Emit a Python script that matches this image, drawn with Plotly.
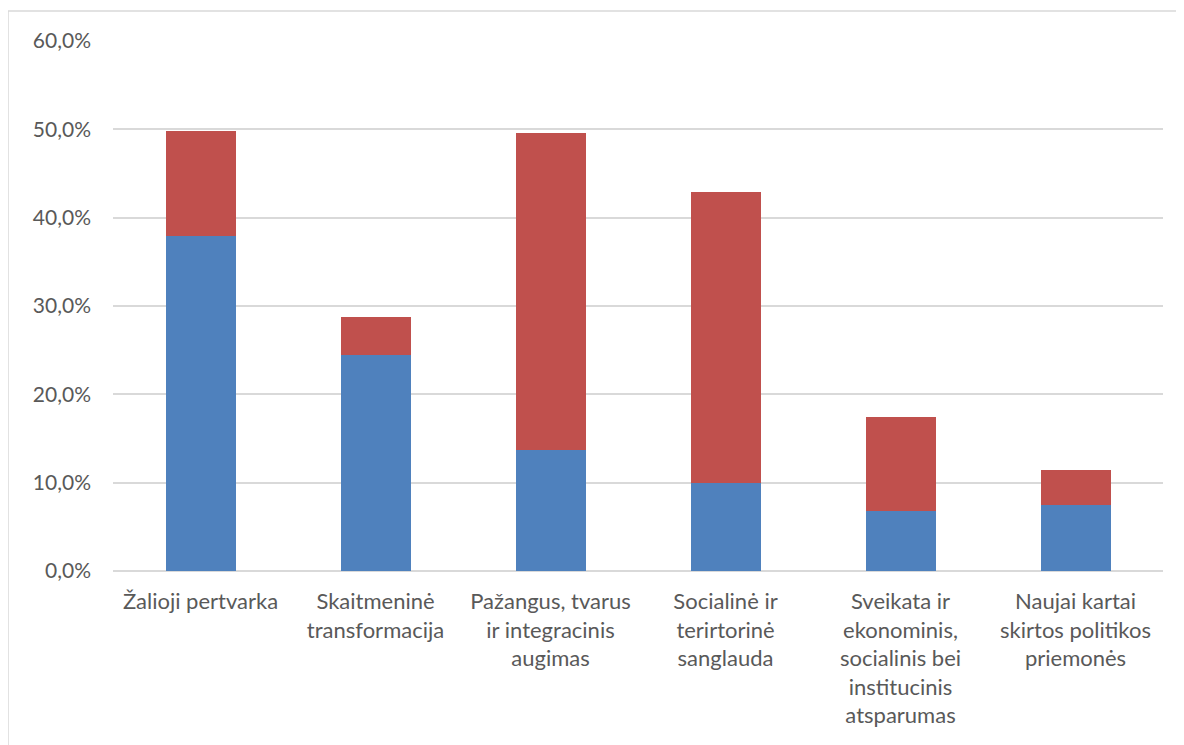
import plotly.graph_objects as go

categories = [
    "Žalioji pertvarka",
    "Skaitmeninė<br>transformacija",
    "Pažangus, tvarus<br>ir integracinis<br>augimas",
    "Socialinė ir<br>terirtorinė<br>sanglauda",
    "Sveikata ir<br>ekonominis,<br>socialinis bei<br>institucinis<br>atsparumas",
    "Naujai kartai<br>skirtos politikos<br>priemonės",
]
blue_values = [37.9, 24.4, 13.65, 9.95, 6.8, 7.5]
red_values = [11.95, 4.4, 35.95, 32.95, 10.6, 3.9]
y_ticks = [0, 10, 20, 30, 40, 50, 60]
y_tick_labels = ["0,0%", "10,0%", "20,0%", "30,0%", "40,0%", "50,0%", "60,0%"]

FONT = "Lato"
GRAY = "#595959"

fig = go.Figure()
fig.add_trace(go.Bar(x=categories, y=blue_values, marker=dict(color="#4F81BD", line=dict(width=0)), name="Serija 1"))
fig.add_trace(go.Bar(x=categories, y=red_values, marker=dict(color="#C0504D", line=dict(width=0)), name="Serija 2"))

fig.update_layout(
    barmode="stack",
    bargap=0.6,
    width=1184,
    height=745,
    margin=dict(l=105, r=29, t=33, b=182),
    plot_bgcolor="white",
    paper_bgcolor="white",
    showlegend=False,
    font=dict(family=FONT, size=22, color=GRAY),
    xaxis=dict(
        showgrid=False,
        showline=False,
        ticks="",
        ticklabelstandoff=15,
        tickfont=dict(family=FONT, size=22, color=GRAY),
    ),
    yaxis=dict(
        range=[0, 60],
        tickvals=y_ticks,
        ticktext=y_tick_labels,
        showgrid=True,
        gridcolor="#D9D9D9",
        gridwidth=1.5,
        zeroline=True,
        zerolinecolor="#D9D9D9",
        zerolinewidth=1.5,
        ticks="",
        ticklabelstandoff=21,
        tickfont=dict(family=FONT, size=21, color=GRAY),
    ),
    shapes=[dict(
        type="rect", xref="paper", yref="paper",
        x0=-0.1, x1=1.2, y0=-0.5, y1=1.0566,
        line=dict(color="#D9D9D9", width=1.5), fillcolor="rgba(0,0,0,0)", layer="below",
    )],
)

fig.write_html("out.html")
